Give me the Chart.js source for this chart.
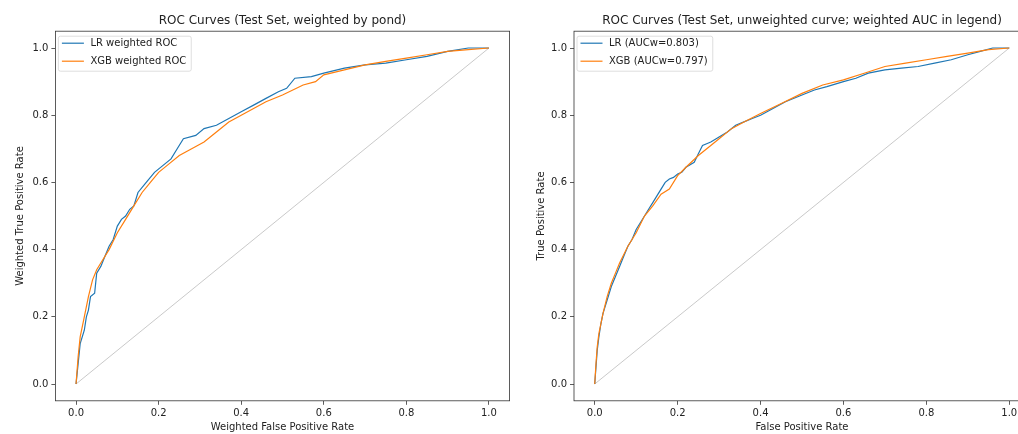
<!DOCTYPE html>
<html>
<head>
<meta charset="utf-8">
<script src="https://cdn.jsdelivr.net/npm/chart.js@4.4.1/dist/chart.umd.min.js"></script>
<style>
  html, body { margin: 0; padding: 0; background: #ffffff; }
  #wrap { position: relative; width: 1018px; height: 434px; overflow: hidden; background: #ffffff; }
  #c1 { position: absolute; left: 0; top: 0; }
  #c2 { position: absolute; left: 515px; top: 0; }
</style>
</head>
<body>
<div id="wrap">
  <canvas id="c1" width="515" height="434"></canvas>
  <canvas id="c2" width="525" height="434"></canvas>
</div>
<script>
// ---------- DATA ----------
const tickValues = [0.0, 0.2, 0.4, 0.6, 0.8, 1.0];
const tickLabels = ["0.0", "0.2", "0.4", "0.6", "0.8", "1.0"];

const titles = ["ROC Curves (Test Set, weighted by pond)", "ROC Curves (Test Set, unweighted curve; weighted AUC in legend)"];
const xTitles = ["Weighted False Positive Rate", "False Positive Rate"];
const yTitles = ["Weighted True Positive Rate", "True Positive Rate"];
const leftLabels = ["LR weighted ROC", "XGB weighted ROC"];
const rightLabels = ["LR (AUCw=0.803)", "XGB (AUCw=0.797)"];

const diagFpr = [0, 1];
const diagTpr = [0, 1];

// Left: weighted ROC
const lrWFpr = [0, 0.005, 0.01, 0.02, 0.025, 0.03, 0.035, 0.045, 0.05, 0.06, 0.07, 0.08, 0.09, 0.10, 0.11, 0.12, 0.13, 0.14, 0.15, 0.17, 0.19, 0.21, 0.23, 0.245, 0.26, 0.29, 0.31, 0.34, 0.37, 0.40, 0.43, 0.46, 0.49, 0.51, 0.53, 0.57, 0.60, 0.65, 0.70, 0.75, 0.80, 0.85, 0.90, 0.95, 1.0];
const lrWTpr = [0, 0.06, 0.12, 0.16, 0.20, 0.22, 0.26, 0.27, 0.33, 0.35, 0.38, 0.41, 0.43, 0.47, 0.49, 0.50, 0.52, 0.53, 0.57, 0.60, 0.63, 0.65, 0.67, 0.70, 0.73, 0.74, 0.76, 0.77, 0.79, 0.81, 0.83, 0.85, 0.87, 0.88, 0.91, 0.915, 0.925, 0.94, 0.95, 0.955, 0.965, 0.975, 0.99, 1.0, 1.0];
const xgbWFpr = [0, 0.005, 0.01, 0.02, 0.03, 0.04, 0.05, 0.06, 0.08, 0.10, 0.12, 0.14, 0.16, 0.18, 0.20, 0.22, 0.25, 0.28, 0.31, 0.34, 0.37, 0.40, 0.43, 0.46, 0.50, 0.55, 0.58, 0.60, 0.65, 0.70, 0.75, 0.80, 0.85, 0.90, 0.95, 1.0];
const xgbWTpr = [0, 0.08, 0.14, 0.20, 0.26, 0.31, 0.34, 0.36, 0.40, 0.45, 0.49, 0.53, 0.57, 0.60, 0.63, 0.65, 0.68, 0.70, 0.72, 0.75, 0.78, 0.80, 0.82, 0.84, 0.86, 0.89, 0.90, 0.92, 0.935, 0.95, 0.96, 0.97, 0.98, 0.99, 0.995, 1.0];

// Right: unweighted ROC
const lrUFpr = [0, 0.003, 0.006, 0.01, 0.015, 0.02, 0.03, 0.04, 0.05, 0.06, 0.07, 0.08, 0.09, 0.10, 0.11, 0.12, 0.13, 0.14, 0.15, 0.16, 0.17, 0.18, 0.19, 0.20, 0.21, 0.22, 0.24, 0.25, 0.26, 0.27, 0.28, 0.30, 0.32, 0.34, 0.36, 0.38, 0.40, 0.43, 0.46, 0.50, 0.53, 0.56, 0.60, 0.63, 0.66, 0.70, 0.74, 0.78, 0.82, 0.86, 0.90, 0.93, 0.96, 1.0];
const lrUTpr = [0, 0.05, 0.10, 0.14, 0.18, 0.21, 0.25, 0.29, 0.32, 0.35, 0.38, 0.41, 0.43, 0.46, 0.48, 0.50, 0.52, 0.54, 0.56, 0.58, 0.60, 0.61, 0.615, 0.625, 0.63, 0.645, 0.66, 0.685, 0.71, 0.715, 0.72, 0.735, 0.75, 0.77, 0.78, 0.79, 0.80, 0.82, 0.84, 0.86, 0.875, 0.885, 0.90, 0.91, 0.925, 0.935, 0.94, 0.945, 0.955, 0.965, 0.98, 0.99, 1.0, 1.0];
const xgbUFpr = [0, 0.003, 0.006, 0.01, 0.02, 0.03, 0.04, 0.05, 0.06, 0.08, 0.10, 0.12, 0.14, 0.16, 0.18, 0.20, 0.22, 0.25, 0.28, 0.30, 0.33, 0.36, 0.40, 0.45, 0.50, 0.55, 0.60, 0.65, 0.70, 0.75, 0.80, 0.85, 0.90, 0.95, 1.0];
const xgbUTpr = [0, 0.06, 0.11, 0.15, 0.21, 0.26, 0.30, 0.33, 0.36, 0.41, 0.45, 0.50, 0.53, 0.565, 0.58, 0.62, 0.645, 0.68, 0.71, 0.73, 0.76, 0.78, 0.805, 0.835, 0.865, 0.89, 0.905, 0.925, 0.945, 0.955, 0.965, 0.975, 0.985, 0.995, 1.0];

// ---------- STYLE ----------
const FONT = "'DejaVu Sans', sans-serif";
const BLUE = "#1f77b4";
const ORANGE = "#ff7f0e";
const AXIS = "#333333";

function pts(xs, ys) { return xs.map((x, i) => ({ x: x, y: ys[i] })); }

const decorPlugin = {
  id: 'decor',
  afterDatasetsDraw(chart, args, opts) {
    const ctx = chart.ctx;
    const a = chart.chartArea;
    ctx.save();
    // frame
    ctx.strokeStyle = AXIS;
    ctx.lineWidth = 0.8;
    ctx.strokeRect(a.left, a.top, a.right - a.left, a.bottom - a.top);
    // title
    ctx.fillStyle = "#222222";
    ctx.font = "12px " + FONT;
    ctx.textAlign = "center";
    ctx.textBaseline = "middle";
    ctx.fillText(opts.title, (a.left + a.right) / 2, 21);
    // legend
    ctx.font = "10px " + FONT;
    const labels = opts.labels;
    const colors = [BLUE, ORANGE];
    let maxW = 0;
    labels.forEach(l => { maxW = Math.max(maxW, ctx.measureText(l).width); });
    const bx = a.left + 3, by = a.top + 5;
    const bw = 32 + maxW + 5, bh = 35;
    ctx.fillStyle = "rgba(255,255,255,0.8)";
    ctx.strokeStyle = "#d6d6d6";
    ctx.lineWidth = 0.8;
    ctx.beginPath();
    if (ctx.roundRect) ctx.roundRect(bx, by, bw, bh, 2); else ctx.rect(bx, by, bw, bh);
    ctx.fill();
    ctx.stroke();
    ctx.textAlign = "left";
    labels.forEach((l, i) => {
      const cy = by + 7 + i * 18;
      ctx.strokeStyle = colors[i];
      ctx.lineWidth = 1.2;
      ctx.beginPath();
      ctx.moveTo(bx + 3.5, cy);
      ctx.lineTo(bx + 25.5, cy);
      ctx.stroke();
      ctx.fillStyle = "#222222";
      ctx.fillText(l, bx + 32, cy + 0.5);
    });
    ctx.restore();
  }
};

function makeChart(id, lr, xgb, labels, title, xTitle, yTitle, yWidth, padRight, yTitlePad) {
  return new Chart(document.getElementById(id), {
    type: 'scatter',
    data: {
      datasets: [
        { label: labels[1], data: xgb, borderColor: ORANGE, borderWidth: 1.2, showLine: true, pointRadius: 0, fill: false, tension: 0, order: 0 },
        { label: labels[0], data: lr, borderColor: BLUE, borderWidth: 1.2, showLine: true, pointRadius: 0, fill: false, tension: 0, order: 1 },
        { label: 'diag', data: pts(diagFpr, diagTpr), borderColor: "rgba(150,150,150,0.65)", borderWidth: 0.8, showLine: true, pointRadius: 0, fill: false, order: 2 }
      ]
    },
    options: {
      responsive: false,
      animation: false,
      devicePixelRatio: 1,
      layout: { padding: { top: 31.2, right: padRight, left: 0, bottom: 0 } },
      plugins: {
        legend: { display: false },
        tooltip: { enabled: false },
        title: { display: false },
        decor: { title: title, labels: labels }
      },
      scales: {
        x: {
          type: 'linear', min: -0.05, max: 1.05,
          afterBuildTicks: s => { s.ticks = tickValues.map(v => ({ value: v })); },
          afterFit: s => { s.height = 33.2; },
          ticks: { autoSkip: false, maxRotation: 0, padding: 3, color: "#222222", font: { family: FONT, size: 10 },
                   callback: (v, i) => tickLabels[i] },
          grid: { drawOnChartArea: false, drawTicks: true, tickLength: 4, color: AXIS, lineWidth: 0.8 },
          border: { display: false },
          title: { display: true, text: xTitle, color: "#222222", font: { family: FONT, size: 10 }, padding: { top: 0, bottom: 1 } }
        },
        y: {
          type: 'linear', min: -0.05, max: 1.05,
          afterBuildTicks: s => { s.ticks = tickValues.map(v => ({ value: v })); },
          afterFit: s => { s.width = yWidth; },
          ticks: { autoSkip: false, padding: 3, color: "#222222", font: { family: FONT, size: 10 },
                   callback: (v, i) => tickLabels[i] },
          grid: { drawOnChartArea: false, drawTicks: true, tickLength: 4, color: AXIS, lineWidth: 0.8 },
          border: { display: false },
          title: { display: true, text: yTitle, color: "#222222", font: { family: FONT, size: 10 }, padding: { top: yTitlePad, bottom: 0 } }
        }
      }
    },
    plugins: [decorPlugin]
  });
}

makeChart('c1', pts(lrWFpr, lrWTpr), pts(xgbWFpr, xgbWTpr), leftLabels, titles[0], xTitles[0], yTitles[0], 55.4, 5.4, 14);
makeChart('c2', pts(lrUFpr, lrUTpr), pts(xgbUFpr, xgbUTpr), rightLabels, titles[1], xTitles[1], yTitles[1], 59, 10, 20);
</script>
</body>
</html>
